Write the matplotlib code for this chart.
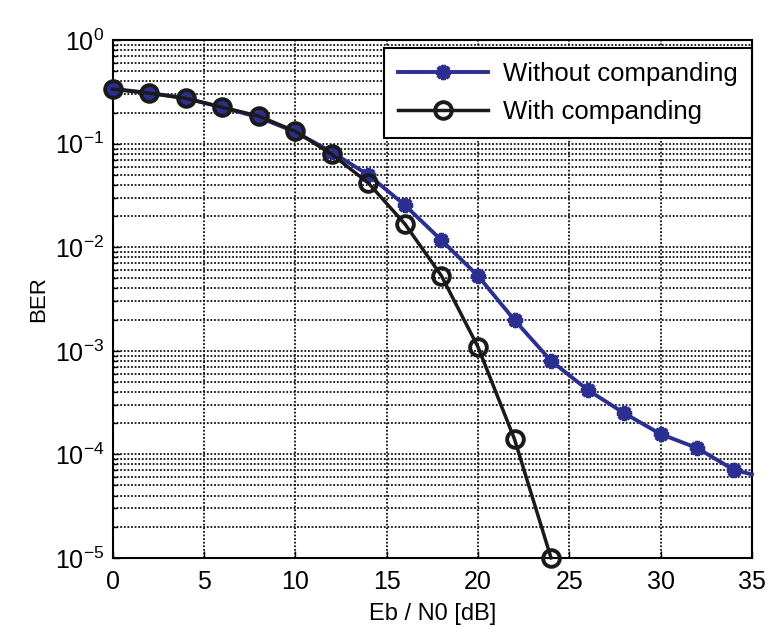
import matplotlib
matplotlib.use("Agg")
import matplotlib.pyplot as plt
from matplotlib.ticker import LogLocator, NullFormatter

plt.rcParams["font.family"] = ["Liberation Sans", "DejaVu Sans"]
plt.rcParams["mathtext.default"] = "regular"

# -----------------------------------------------------------------------
# Data
# -----------------------------------------------------------------------
ebn0_without = [0, 2, 4, 6, 8, 10, 12, 14, 16, 18, 20, 22, 24, 26, 28, 30, 32, 34, 35]
ber_without = [0.34, 0.31, 0.275, 0.225, 0.18, 0.13, 0.083, 0.050, 0.0255, 0.0117,
               0.0053, 0.00198, 0.00080, 0.00042, 0.00025, 0.000157, 0.000115,
               7.1e-5, 6.4e-5]
marks_without = list(range(18))  # last value is where the line leaves the axes

ebn0_with = [0, 2, 4, 6, 8, 10, 12, 14, 16, 18, 20, 22, 24]
ber_with = [0.337, 0.308, 0.275, 0.225, 0.185, 0.132, 0.079, 0.0417, 0.0168,
            0.0053, 0.00109, 0.00014, 1.0e-5]

blue = "#2b2f91"

fig = plt.figure(figsize=(7.72, 6.39), dpi=100)
ax = fig.add_axes([0.146, 0.127, 0.828, 0.81])

ax.plot(ebn0_without, ber_without, color=blue, lw=2.8, marker=(8, 2, 0),
        markersize=11, markeredgewidth=3, markevery=marks_without,
        label="Without companding", zorder=3, clip_on=False)
ax.plot(ebn0_with, ber_with, color="#1a1a1a", lw=2.5, marker="o",
        markersize=12, markerfacecolor="none", markeredgewidth=2.8,
        label="With companding", zorder=4, clip_on=False)

ax.set_yscale("log")
ax.set_xlim(0, 35)
ax.set_ylim(1e-5, 1)
ax.set_xticks(range(0, 36, 5))
ax.yaxis.set_major_locator(LogLocator(base=10, numticks=10))
ax.yaxis.set_minor_locator(LogLocator(base=10, subs=range(2, 10), numticks=20))
ax.yaxis.set_minor_formatter(NullFormatter())

dots = (0, (1, 1))
ax.grid(True, which="major", color="#111111", linestyle=dots, linewidth=1.3)
ax.grid(True, which="minor", axis="y", color="#111111", linestyle=dots, linewidth=1.3)
ax.tick_params(which="both", direction="in", labelsize=18, length=5, width=1)
ax.tick_params(which="minor", length=3)
ax.tick_params(axis="x", pad=9)
ax.tick_params(axis="y", pad=6)

for s in ax.spines.values():
    s.set_linewidth(1.5)

ax.set_xlabel("Eb / N0 [dB]", fontsize=17, labelpad=6)
ax.set_ylabel("BER", fontsize=16, labelpad=4)

leg = ax.legend(loc="upper right", fontsize=18.5, frameon=True, fancybox=False,
                edgecolor="black", framealpha=1, borderaxespad=0.3,
                bbox_to_anchor=(1.012, 1.0),
                handlelength=3.5, borderpad=0.55, labelspacing=0.55,
                handletextpad=0.6)
leg.get_frame().set_linewidth(1.5)

fig.savefig("out.png", dpi=100)
